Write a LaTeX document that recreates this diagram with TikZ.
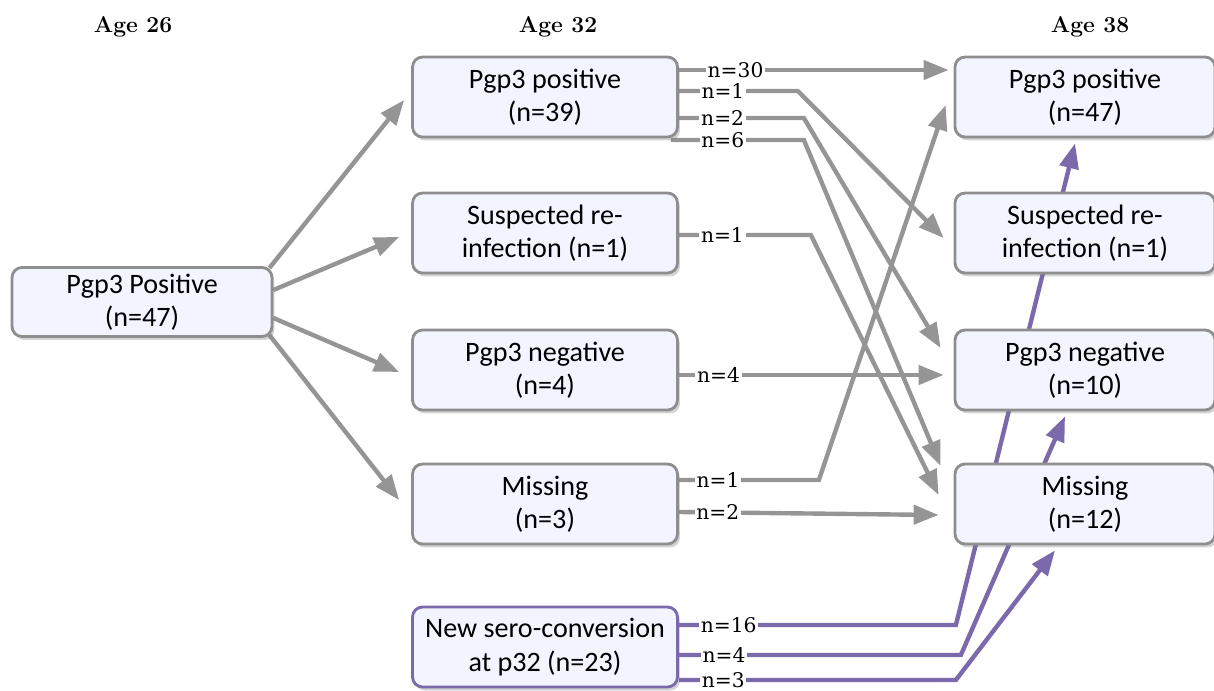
\documentclass[tikz,border=0pt]{standalone}
\usepackage{fontspec}
\newfontfamily\boxfont{Carlito}
\newfontfamily\countfont{DejaVu Serif}
\usetikzlibrary{arrows.meta,calc,shadows,backgrounds}

\definecolor{boxfill}{HTML}{F2F5FF}
\definecolor{boxline}{HTML}{8E8E8E}
\definecolor{flowgray}{HTML}{959595}
\definecolor{flowpurple}{HTML}{7A69AB}

\begin{document}
\begin{tikzpicture}[
x=0.02cm, y=-0.02cm,
>={Triangle[length=0.5cm,width=0.38cm]},
stage/.style={
	draw=boxline,
	fill=boxfill,
	line width=1.6pt,
	rounded corners=0.2cm,
	minimum width=5.3cm,
	minimum height=1.6cm,
	align=center,
	font=\boxfont\fontsize{16}{19}\selectfont,
	drop shadow={shadow xshift=0.05cm,shadow yshift=-0.07cm,opacity=0.35}
},
header/.style={
	font=\bfseries\fontsize{13}{15}\selectfont
},
flow/.style={
	->,
	line width=2.5pt,
	draw=flowgray
},
newflow/.style={
	flow,
	draw=flowpurple
},
count/.style={
	fill=white,
	inner sep=1pt,
	font=\countfont\fontsize{11.5}{13}\selectfont
}
]
\useasboundingbox (0,0) rectangle (1214,690);

\foreach \x/\l in {133/26,558/32,1090/38}
\node[header] (h\l) at (\x,27) {Age \l};

% age 26
\node[stage,minimum width=5.2cm,minimum height=1.38cm] (a26) at (142,302) {Pgp3 Positive\\(n=47)};

% age 32
\node[stage] (p32pos) at (545,97) {Pgp3 positive\\(n=39)};
\node[stage] (sus32) at (545,233) {Suspected re-\\infection (n=1)};
\node[stage] (neg32) at (545,370) {Pgp3 negative\\(n=4)};
\node[stage] (mis32) at (545,504) {Missing\\(n=3)};
\node[stage,draw=flowpurple] (new32) at (545,647) {New sero-conversion\\at p32 (n=23)};

% age 38
\node[stage,minimum width=5.2cm] (p38pos) at (1085,97) {Pgp3 positive\\(n=47)};
\node[stage,minimum width=5.2cm] (sus38) at (1085,233) {Suspected re-\\infection (n=1)};
\node[stage,minimum width=5.2cm] (neg38) at (1085,370) {Pgp3 negative\\(n=10)};
\node[stage,minimum width=5.2cm] (mis38) at (1085,504) {Missing\\(n=12)};

\begin{pgfonlayer}{background}
\draw[flow] ($(a26.east)+(-4,-34)$) -- ($(p32pos.west)+(-7,3)$);
\draw[flow] ($(a26.east)+(0,-12)$) -- ($(sus32.west)+(-12,4)$);
\draw[flow] ($(a26.east)+(0,16)$) -- ($(neg32.west)+(-12,2)$);
\draw[flow] ($(a26.east)+(-4,33)$) -- ($(mis32.west)+(-12,-4)$);

\draw[flow] ($(p32pos.east)+(0,-27)$) -- node[count,pos=0.21] {n=30} ($(p38pos.west)+(-5,-27)$);
\draw[flow] ($(p32pos.east)+(0,-6)$) -- node[count,pos=0.37] {n=1} ++(119,0) -- ($(sus38.west)+(-10,5)$);
\draw[flow] ($(p32pos.east)+(0,21)$) -- node[count,pos=0.35] {n=2} ++(125,0) -- ($(neg38.west)+(-13,-22)$);
\draw[flow] ($(p32pos.east)+(-8,43)$) -- node[count,pos=0.39] {n=6} ($(p32pos.east)+(125,43)$) -- ($(mis38.west)+(-13,-38)$);
\draw[flow] ($(sus32.east)+(0,2)$) -- node[count,pos=0.33] {n=1} ++(132,0) -- ($(mis38.west)+(-15,-9)$);
\draw[flow] ($(neg32.east)+(0,5)$) -- node[count,pos=0.15] {n=4} ($(neg38.west)+(-10,5)$);
\draw[flow] ($(mis32.east)+(0,-24)$) -- node[count,pos=0.28] {n=1} ++(140,0) -- ($(p38pos.west)+(-8,8)$);
\draw[flow] ($(mis32.east)+(0,8)$) -- node[count,pos=0.15] {n=2} ($(mis38.west)+(-15,11)$);

\draw[newflow] ($(new32.east)+(0,-22)$) -- node[count,pos=0.18] {n=16} ++(277,0) -- ($(p38pos.south)+(-10,5)$);
\draw[newflow] ($(new32.east)+(0,8)$) -- node[count,pos=0.16] {n=4} ++(282,0) -- ($(neg38.south)+(-20,5)$);
\draw[newflow] ($(new32.east)+(0,33)$) -- node[count,pos=0.16] {n=3} ++(277,0) -- ($(mis38.south)+(-30,5)$);
\end{pgfonlayer}

\end{tikzpicture}
\end{document}
